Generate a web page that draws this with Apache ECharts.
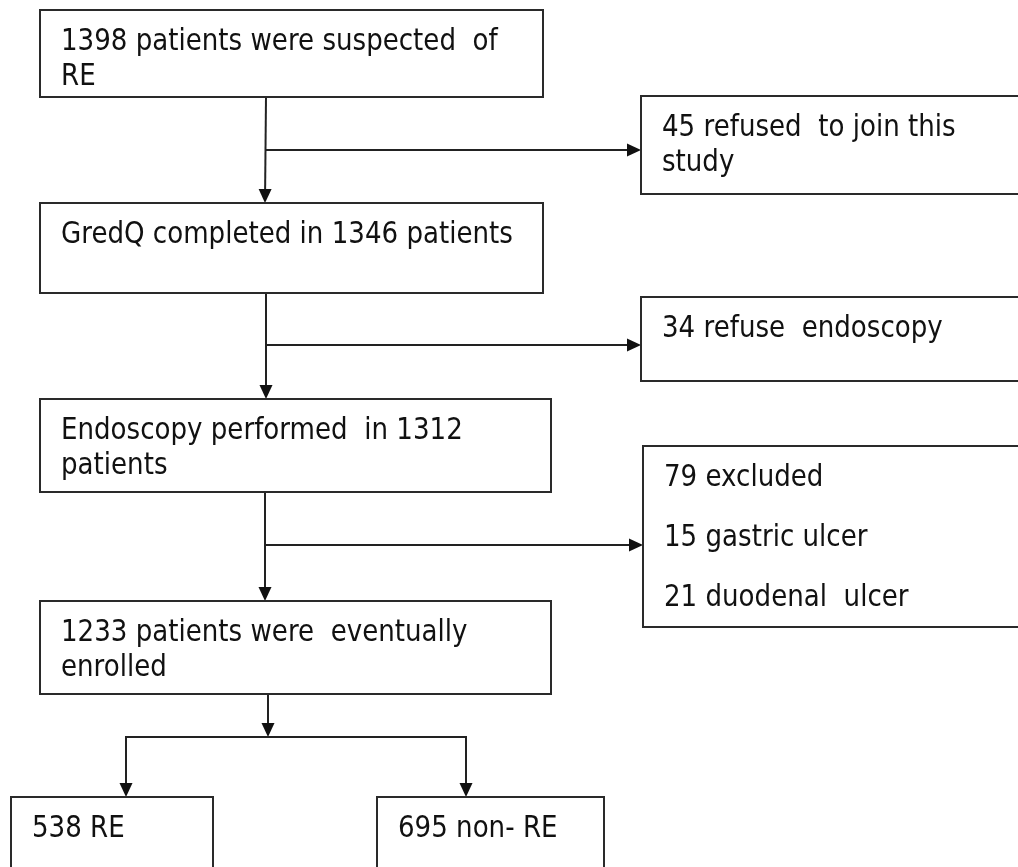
<!DOCTYPE html>
<html>
<head>
<meta charset="utf-8">
<script src="https://cdn.jsdelivr.net/npm/echarts@6/dist/echarts.min.js"></script>
<style>
  html, body { margin: 0; padding: 0; background: #fff; }
  #chart { width: 1018px; height: 867px; }
</style>
</head>
<body>
<div id="chart"></div>
<script>
// box texts, one entry per box, lines split by \n
var boxTexts = [
  '1398 patients were suspected  of\nRE',
  '45 refused  to join this\nstudy',
  'GredQ completed in 1346 patients',
  '34 refuse  endoscopy',
  'Endoscopy performed  in 1312\npatients',
  '79 excluded\n15 gastric ulcer\n21 duodenal  ulcer',
  '1233 patients were  eventually\nenrolled',
  '538 RE',
  '695 non- RE'
];

// layout of the boxes: [left, top, right, bottom, lineGap] in page px
var boxRects = [
  [40, 10, 543, 97, 35],
  [641, 96, 1030, 194, 35],
  [40, 203, 543, 293, 35],
  [641, 297, 1030, 381, 35],
  [40, 399, 551, 492, 35],
  [643, 446, 1030, 627, 60],
  [40, 601, 551, 694, 35],
  [11, 797, 213, 890, 35],
  [377, 797, 604, 890, 35]
];

// connectors: polyline points, arrow head on the last point
var links = [
  [[266, 97], [265, 203]],
  [[266, 150], [641, 150]],
  [[266, 293], [266, 399]],
  [[266, 345], [641, 345]],
  [[265, 492], [265, 601]],
  [[265, 545], [643, 545]],
  [[268, 694], [268, 737]],
  [[268, 737], [126, 737], [126, 797]],
  [[268, 737], [466, 737], [466, 797]]
];

var myChart = echarts.init(document.getElementById('chart'));

function renderBox(params, api) {
  var i = params.dataIndex;
  var r = boxRects[i];
  var p0 = api.coord([r[0], r[1]]);
  var p1 = api.coord([r[2], r[3]]);
  var children = [{
    type: 'rect',
    shape: { x: p0[0], y: p0[1], width: p1[0] - p0[0], height: p1[1] - p0[1] },
    style: { fill: '#fff', stroke: '#2a2a2a', lineWidth: 2 }
  }];
  var lines = boxTexts[i].split('\n');
  for (var k = 0; k < lines.length; k++) {
    var base = api.coord([r[0] + 21, r[1] + 42 + k * r[4]]);
    children.push({
      type: 'text',
      x: base[0],
      y: base[1] - 10,
      scaleX: 0.87,
      style: {
        text: lines[k],
        x: 0, y: 0,
        fill: '#111',
        font: '30px "DejaVu Sans"',
        textAlign: 'left',
        textVerticalAlign: 'middle'
      }
    });
  }
  return { type: 'group', children: children };
}

function renderLink(params, api) {
  var pts = links[params.dataIndex].map(function (p) { return api.coord(p); });
  var a = pts[pts.length - 2], b = pts[pts.length - 1];
  var ang = Math.atan2(b[1] - a[1], b[0] - a[0]);
  var len = 14, half = 6.5;
  var bx = b[0] - len * Math.cos(ang), by = b[1] - len * Math.sin(ang);
  var head = [
    [b[0], b[1]],
    [bx + half * Math.sin(ang), by - half * Math.cos(ang)],
    [bx - half * Math.sin(ang), by + half * Math.cos(ang)]
  ];
  var line = pts.slice(0, -1).concat([[bx, by]]);
  return {
    type: 'group',
    children: [
      { type: 'polyline', shape: { points: line }, style: { stroke: '#222', lineWidth: 2, fill: null } },
      { type: 'polygon', shape: { points: head }, style: { fill: '#111' } }
    ]
  };
}

var option = {
  animation: false,
  grid: { left: 0, right: 0, top: 0, bottom: 0 },
  xAxis: { type: 'value', min: 0, max: 1018, show: false },
  yAxis: { type: 'value', min: 0, max: 867, inverse: true, show: false },
  series: [
    {
      type: 'custom',
      renderItem: renderLink,
      data: links.map(function (l, i) { return [i]; }),
      clip: false,
      silent: true
    },
    {
      type: 'custom',
      renderItem: renderBox,
      data: boxTexts.map(function (t, i) { return [i]; }),
      clip: false,
      silent: true
    }
  ]
};

myChart.setOption(option);
</script>
</body>
</html>
